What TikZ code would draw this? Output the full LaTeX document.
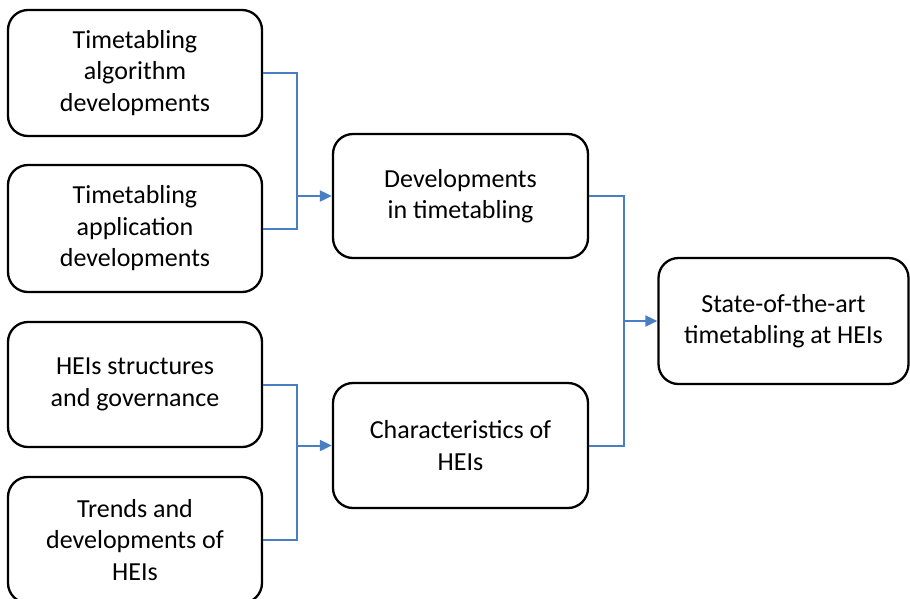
\documentclass[tikz,border=0pt]{standalone}
\usepackage{fontspec}
\setmainfont{Carlito}
\usetikzlibrary{arrows.meta}
\definecolor{linkblue}{HTML}{4A7EC2}
\begin{document}
\begin{tikzpicture}[x=1pt,y=-1pt,
  box/.style={draw=black,line width=2.3pt,rounded corners=20pt,fill=white,
    align=center,inner sep=0pt,font=\fontsize{26}{31.5}\selectfont},
  link/.style={draw=linkblue,line width=2pt},
  arr/.style={link,-{Triangle[length=12pt,width=11pt]}}]
\useasboundingbox (0,0) rectangle (910,598);
\clip (0,0) rectangle (910,598);
\node[box,minimum width=254pt,minimum height=126pt] (b1) at (135,73) {Timetabling\\algorithm\\developments};
\node[box,minimum width=254pt,minimum height=127pt] (b2) at (135,228.5) {Timetabling\\application\\developments};
\node[box,minimum width=254pt,minimum height=125pt] (b3) at (135,384.5) {HEIs structures\\and governance};
\node[box,minimum width=254pt,minimum height=126pt] (b4) at (135,540) {Trends and\\developments of\\HEIs};
\node[box,minimum width=255pt,minimum height=124pt] (b5) at (460.5,196) {Developments\\in timetabling};
\node[box,minimum width=255pt,minimum height=125pt] (b6) at (460.5,445.5) {Characteristics of\\HEIs};
\node[box,minimum width=250pt,minimum height=126pt] (b7) at (783.5,321) {State-of-the-art\\timetabling at HEIs};
\coordinate (j1) at (297,196);
\coordinate (j2) at (297,445.5);
\coordinate (j3) at (624,321);
\draw[link] (b1.east) -| (j1);
\draw[link] (b2.east) -| (j1);
\draw[arr] (j1) -- (b5.west);
\draw[link] (b3.east) -| (j2);
\draw[link] (b4.east) -| (j2);
\draw[arr] (j2) -- (b6.west);
\draw[link] (b5.east) -| (j3);
\draw[link] (b6.east) -| (j3);
\draw[arr] (j3) -- (b7.west);
\end{tikzpicture}
\end{document}
